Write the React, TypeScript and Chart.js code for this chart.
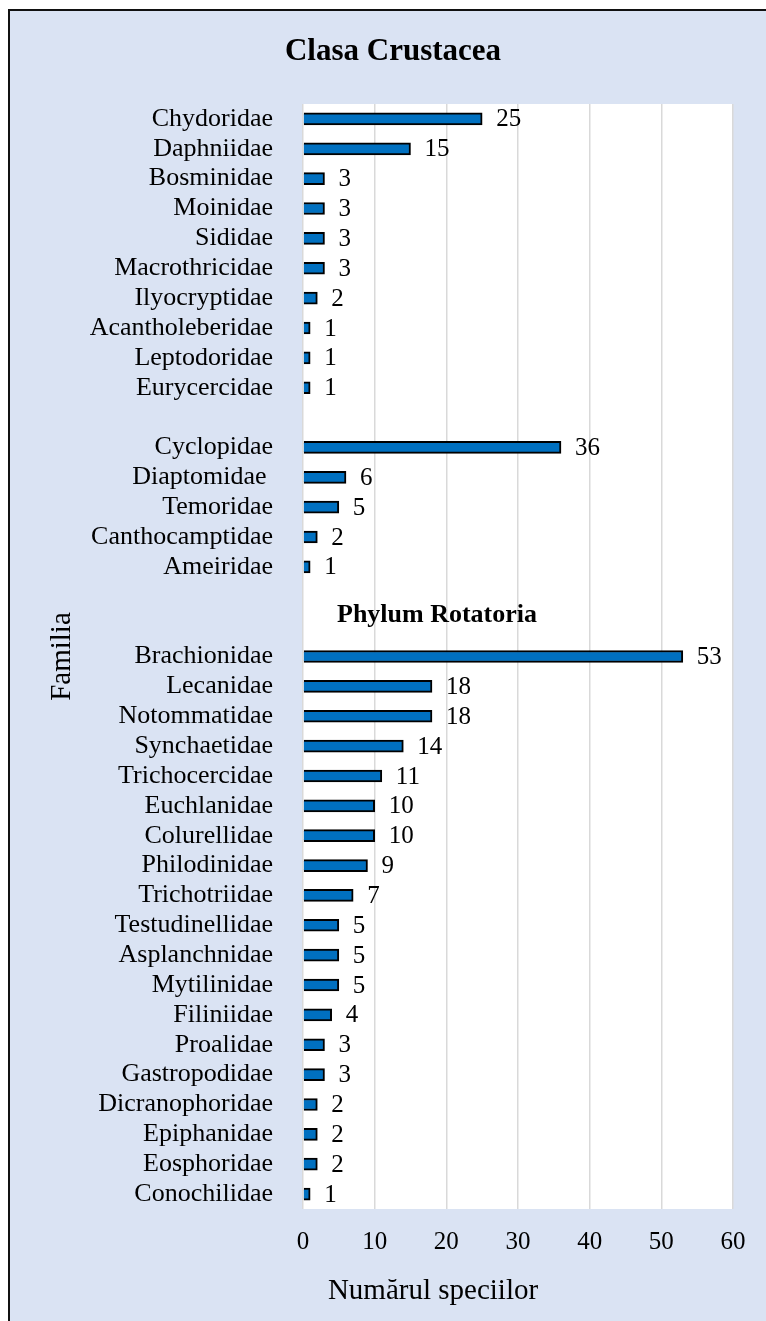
import React, { useEffect, useRef } from "react";
import { Chart, registerables } from "chart.js";

Chart.register(...registerables);

const crustaceaFamilies = ["Chydoridae", "Daphniidae", "Bosminidae", "Moinidae", "Sididae", "Macrothricidae", "Ilyocryptidae", "Acantholeberidae", "Leptodoridae", "Eurycercidae"];
const crustaceaCounts = [25, 15, 3, 3, 3, 3, 2, 1, 1, 1];
const copepodFamilies = ["Cyclopidae", "Diaptomidae ", "Temoridae", "Canthocamptidae", "Ameiridae"];
const copepodCounts = [36, 6, 5, 2, 1];
const rotatoriaFamilies = ["Brachionidae", "Lecanidae", "Notommatidae", "Synchaetidae", "Trichocercidae", "Euchlanidae", "Colurellidae", "Philodinidae", "Trichotriidae", "Testudinellidae", "Asplanchnidae", "Mytilinidae", "Filiniidae", "Proalidae", "Gastropodidae", "Dicranophoridae", "Epiphanidae", "Eosphoridae", "Conochilidae"];
const rotatoriaCounts = [53, 18, 18, 14, 11, 10, 10, 9, 7, 5, 5, 5, 4, 3, 3, 2, 2, 2, 1];

const xMin = 0;
const xMax = 60;
const xStep = 10;

const chartTitle = "Clasa Crustacea";
const groupTitle = "Phylum Rotatoria";
const xTitle = "Numărul speciilor";
const yTitle = "Familia";

const FONT = "'Liberation Serif', 'Times New Roman', serif";

const labels = [...crustaceaFamilies, "", ...copepodFamilies, "", "", ...rotatoriaFamilies];
const values: (number | null)[] = [...crustaceaCounts, null, ...copepodCounts, null, null, ...rotatoriaCounts];
const groupGapIndex = crustaceaFamilies.length + 1 + copepodFamilies.length;

const decorPlugin = {
  id: "decor",
  beforeDraw(chart: any) {
    const { ctx, chartArea } = chart;
    ctx.save();
    ctx.fillStyle = "#ffffff";
    ctx.fillRect(chartArea.left, chartArea.top, chartArea.right - chartArea.left, chartArea.bottom - chartArea.top);
    ctx.restore();
  },
  afterDatasetsDraw(chart: any) {
    const { ctx, chartArea, scales } = chart;
    const meta = chart.getDatasetMeta(0);
    ctx.save();
    ctx.fillStyle = "#000000";
    ctx.font = `25px ${FONT}`;
    ctx.textAlign = "left";
    ctx.textBaseline = "middle";
    meta.data.forEach((el: any, i: number) => {
      const v = values[i];
      if (v === null || v === undefined) return;
      ctx.fillText(String(v), el.x + 14, el.y + 1);
    });

    // group label between copepods and rotifers
    const yA = scales.y.getPixelForValue(groupGapIndex);
    const yB = scales.y.getPixelForValue(groupGapIndex + 1);
    ctx.font = `bold 26px ${FONT}`;
    ctx.textAlign = "center";
    ctx.textBaseline = "alphabetic";
    ctx.fillText(groupTitle, scales.x.getPixelForValue(18.7), (yA + yB) / 2 + 10);

    // main title
    ctx.font = `bold 31px ${FONT}`;
    ctx.fillText(chartTitle, 393, 60);

    // x axis title
    ctx.font = `29px ${FONT}`;
    ctx.fillText(xTitle, 433, 1299);

    // y axis title
    ctx.save();
    ctx.translate(70, (chartArea.top + chartArea.bottom) / 2);
    ctx.rotate(-Math.PI / 2);
    ctx.fillText(yTitle, 0, 0);
    ctx.restore();
    ctx.restore();
  },
};

export default function App() {
  const canvasRef = useRef<HTMLCanvasElement | null>(null);

  useEffect(() => {
    if (!canvasRef.current) return;
    const chart = new Chart(canvasRef.current, {
      type: "bar",
      data: {
        labels,
        datasets: [
          {
            data: values,
            backgroundColor: "#0070c0",
            borderColor: "#000000",
            borderWidth: 2,
            barThickness: 12,
          },
        ],
      },
      options: {
        indexAxis: "y",
        responsive: false,
        animation: false,
        layout: { padding: { top: 104, left: 0, right: 33, bottom: 0 } },
        plugins: {
          legend: { display: false },
          title: { display: false },
          tooltip: { enabled: false },
        },
        scales: {
          x: {
            min: xMin,
            max: xMax,
            ticks: {
              stepSize: xStep,
              color: "#000000",
              font: { family: FONT, size: 25 },
              padding: 18,
            },
            grid: { color: "#d9d9d9", lineWidth: 1.5, drawTicks: false },
            border: { display: false },
            afterFit(scale: any) {
              scale.height = 112;
            },
          },
          y: {
            ticks: {
              autoSkip: false,
              color: "#000000",
              font: { family: FONT, size: 26 },
              padding: 30,
            },
            grid: { display: false, drawTicks: false },
            border: { display: false },
            afterFit(scale: any) {
              scale.width = 303;
            },
          },
        },
      },
      plugins: [decorPlugin],
    });
    return () => chart.destroy();
  }, []);

  return (
    <div style={{ position: "absolute", left: 0, top: 0, width: 766, height: 1321, overflow: "hidden", background: "#ffffff" }}>
      <div
        style={{
          position: "absolute",
          left: 8,
          top: 9,
          width: 900,
          height: 1400,
          background: "#dae3f3",
          borderTop: "2px solid #111111",
          borderLeft: "2px solid #111111",
        }}
      />
      <canvas ref={canvasRef} width={766} height={1321} style={{ position: "absolute", left: 0, top: 0, width: 766, height: 1321, display: "block" }} />
    </div>
  );
}
